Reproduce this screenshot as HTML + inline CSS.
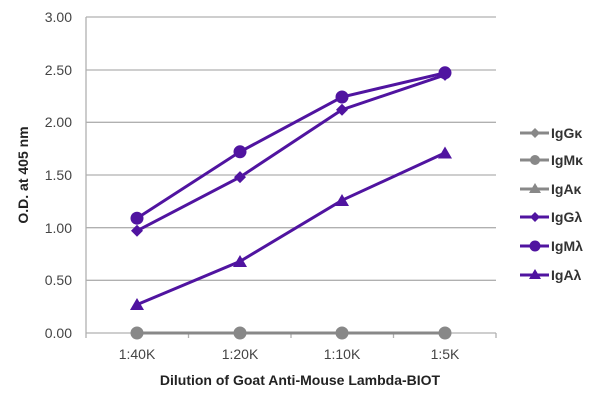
<!DOCTYPE html><html><head><style>body{margin:0;background:#fff}svg{display:block}text{font-family:"Liberation Sans",sans-serif}</style></head><body>
<svg width="600" height="406" viewBox="0 0 600 406">
<g stroke="#b0b0b0" stroke-width="1.3">
<line x1="86" y1="17" x2="496" y2="17"/><line x1="86" y1="70" x2="496" y2="70"/><line x1="86" y1="122.3" x2="496" y2="122.3"/><line x1="86" y1="175" x2="496" y2="175"/><line x1="86" y1="227.7" x2="496" y2="227.7"/><line x1="86" y1="280.3" x2="496" y2="280.3"/>
<line x1="86" y1="17" x2="86" y2="338"/><line x1="86" y1="333" x2="496" y2="333"/>
<line x1="188.5" y1="333" x2="188.5" y2="338"/><line x1="291" y1="333" x2="291" y2="338"/><line x1="393.5" y1="333" x2="393.5" y2="338"/><line x1="496" y1="333" x2="496" y2="338"/>
</g>
<g font-size="14" fill="#444" text-anchor="end">
<text x="72" y="22">3.00</text><text x="72" y="75">2.50</text><text x="72" y="127">2.00</text><text x="72" y="180">1.50</text><text x="72" y="233">1.00</text><text x="72" y="285">0.50</text><text x="72" y="338">0.00</text></g>
<g font-size="14" fill="#444" text-anchor="middle">
<text x="137" y="359">1:40K</text><text x="240" y="359">1:20K</text><text x="342" y="359">1:10K</text><text x="445" y="359">1:5K</text></g>
<text x="300" y="385" font-size="14" font-weight="bold" text-anchor="middle" fill="#222">Dilution of Goat Anti-Mouse Lambda-BIOT</text>
<text transform="translate(28,175) rotate(-90)" font-size="14" font-weight="bold" text-anchor="middle" fill="#222">O.D. at 405 nm</text>
<g stroke="#888" stroke-width="3" fill="#888">
<line x1="137" y1="333" x2="445" y2="333"/>
<circle cx="137" cy="333" r="5"/><circle cx="240" cy="333" r="5"/><circle cx="342" cy="333" r="5"/><circle cx="445" cy="333" r="5"/></g>
<g stroke="#5014a0" stroke-width="3" fill="#5014a0">
<polyline fill="none" points="137,230.8 240,177.1 342,109.7 445,74.9"/>
<polyline fill="none" points="137,218.2 240,151.8 342,97 445,72.8"/>
<polyline fill="none" points="137,304.6 240,261.4 342,200.3 445,152.9"/>
<g stroke="none">
<path d="M137,224.8l6,6-6,6-6-6z"/><path d="M240,171.1l6,6-6,6-6-6z"/><path d="M342,103.7l6,6-6,6-6-6z"/><path d="M445,68.9l6,6-6,6-6-6z"/>
<circle cx="137" cy="218.2" r="6.5"/><circle cx="240" cy="151.8" r="6.5"/><circle cx="342" cy="97" r="6.5"/><circle cx="445" cy="72.8" r="6.5"/>
<path d="M137,298l7,12h-14z"/><path d="M240,255l7,12h-14z"/><path d="M342,194l7,12h-14z"/><path d="M445,146.5l7,12h-14z"/>
</g></g>
<g font-size="14" font-weight="bold" fill="#333">
<line x1="520" y1="133" x2="549" y2="133" stroke="#888" stroke-width="3"/><path d="M535,128l5,5-5,5-5-5z" fill="#888"/><text x="551" y="138">IgGκ</text>
<line x1="520" y1="160" x2="549" y2="160" stroke="#888" stroke-width="3"/><circle cx="535" cy="160" r="5" fill="#888"/><text x="551" y="165">IgMκ</text>
<line x1="520" y1="189" x2="549" y2="189" stroke="#888" stroke-width="3"/><path d="M535,183l6,10h-12z" fill="#888"/><text x="551" y="194">IgAκ</text>
<line x1="520" y1="217" x2="549" y2="217" stroke="#5014a0" stroke-width="3"/><path d="M535,212l5,5-5,5-5-5z" fill="#5014a0"/><text x="551" y="222">IgGλ</text>
<line x1="520" y1="246" x2="549" y2="246" stroke="#5014a0" stroke-width="3"/><circle cx="535" cy="246" r="5.5" fill="#5014a0"/><text x="551" y="251">IgMλ</text>
<line x1="520" y1="275" x2="549" y2="275" stroke="#5014a0" stroke-width="3"/><path d="M535,269l6,10h-12z" fill="#5014a0"/><text x="551" y="280">IgAλ</text>
</g>
</svg></body></html>
